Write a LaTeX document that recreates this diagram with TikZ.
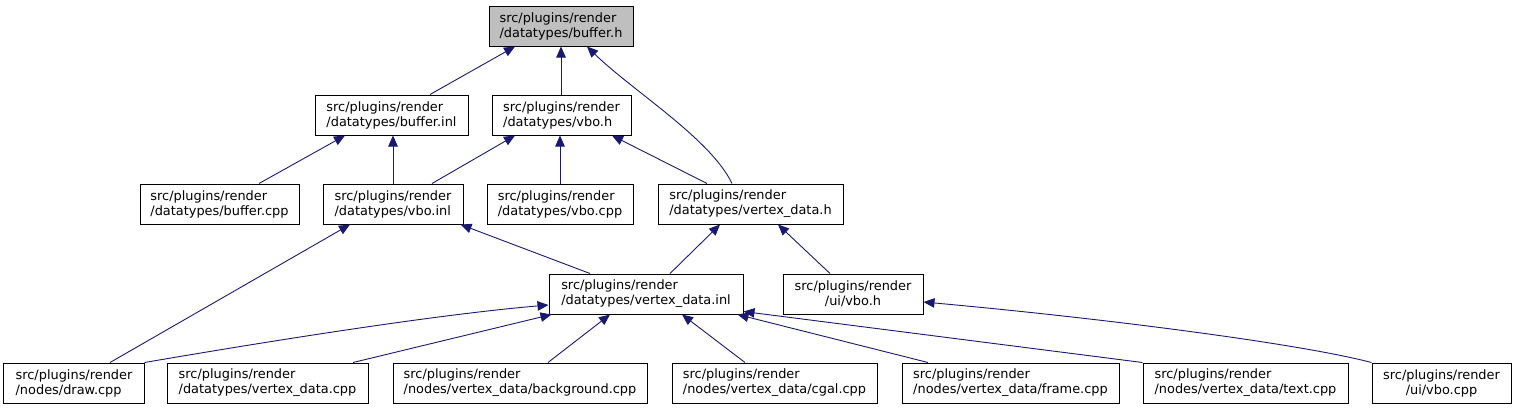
\documentclass[tikz,border=0pt]{standalone}
\usepackage{fontspec}
\setmainfont{DejaVu Sans}
\usetikzlibrary{arrows.meta}
\definecolor{edgeblue}{HTML}{191970}
\definecolor{rootgrey}{HTML}{BFBFBF}
\begin{document}
\begin{tikzpicture}[x=1bp,y=-1bp,
  box/.style={draw=black, line width=1bp, rectangle, inner sep=0pt, minimum height=40bp,
              align=left, font=\fontsize{12.9bp}{15bp}\selectfont, fill=white},
  cbox/.style={box, align=center},
  edge/.style={draw=edgeblue, line width=0.9bp, -{Triangle[length=11bp,width=9.5bp]}}]
\useasboundingbox (0,0) rectangle (1516,409);
% row 0
\node[box, fill=rootgrey, minimum width=144bp] (bufh) at (561,26) {src/plugins/render\\/datatypes/buffer.h};
% row 1
\node[box, minimum width=153bp] (bufinl) at (391.5,115) {src/plugins/render\\/datatypes/buffer.inl};
\node[box, minimum width=139bp] (vboh) at (561.5,115) {src/plugins/render\\/datatypes/vbo.h};
% row 2
\node[box, minimum width=159bp] (bufcpp) at (219.5,204) {src/plugins/render\\/datatypes/buffer.cpp};
\node[box, minimum width=140bp] (vboinl) at (393,204) {src/plugins/render\\/datatypes/vbo.inl};
\node[box, minimum width=146bp] (vbocpp) at (560,204) {src/plugins/render\\/datatypes/vbo.cpp};
\node[box, minimum width=185bp] (vdh) at (750.5,204) {src/plugins/render\\/datatypes/vertex\_data.h};
% row 3
\node[box, minimum width=194bp] (vdinl) at (646,294) {src/plugins/render\\/datatypes/vertex\_data.inl};
\node[cbox, minimum width=140bp] (uivboh) at (853,294) {src/plugins/render\\/ui/vbo.h};
% row 4
\node[box, minimum width=140bp] (drawcpp) at (74,383) {src/plugins/render\\/nodes/draw.cpp};
\node[box, minimum width=201bp] (vdcpp) at (267.5,383) {src/plugins/render\\/datatypes/vertex\_data.cpp};
\node[box, minimum width=254bp] (bgcpp) at (520,383) {src/plugins/render\\/nodes/vertex\_data/background.cpp};
\node[box, minimum width=205bp] (cgalcpp) at (774.5,383) {src/plugins/render\\/nodes/vertex\_data/cgal.cpp};
\node[box, minimum width=217bp] (framecpp) at (1010.5,383) {src/plugins/render\\/nodes/vertex\_data/frame.cpp};
\node[box, minimum width=205bp] (textcpp) at (1245.5,383) {src/plugins/render\\/nodes/vertex\_data/text.cpp};
\node[cbox, minimum width=139bp] (uivbocpp) at (1441.5,383) {src/plugins/render\\/ui/vbo.cpp};
% edges
\draw[edge] ([xshift=38.5bp]bufinl.north) -- ([xshift=-46bp]bufh.south);
\draw[edge] (vboh.north -| bufh.south) -- (bufh.south);
\draw[edge] ([xshift=-18.5bp]vdh.north) .. controls ([xshift=-40bp,yshift=45bp]vdh.north) and ([xshift=71bp,yshift=-44bp]bufh.south) .. ([xshift=26bp]bufh.south);
\draw[edge] ([xshift=39.5bp]bufcpp.north) -- ([xshift=-46.5bp]bufinl.south);
\draw[edge] (vboinl.north) -- (vboinl.north |- bufinl.south);
\draw[edge] ([xshift=39bp]vboinl.north) -- ([xshift=-46.5bp]vboh.south);
\draw[edge] (vbocpp.north) -- (vbocpp.north |- vboh.south);
\draw[edge] ([xshift=-43.5bp]vdh.north) -- ([xshift=50.5bp]vboh.south);
\draw[edge] ([xshift=36bp]drawcpp.north) -- ([xshift=-43bp]vboinl.south);
\draw[edge] ([xshift=-56bp]vdinl.north) -- ([xshift=-3bp]vboinl.south east);
\draw[edge] ([xshift=24bp]vdinl.north) -- ([xshift=-30.5bp]vdh.south);
\draw[edge] ([xshift=-23bp]uivboh.north) -- ([xshift=27.5bp]vdh.south);
\draw[edge] (drawcpp.north east) .. controls ([xshift=76bp,yshift=13bp]drawcpp.north east) and ([xshift=-129bp]vdinl.west |- 0,316) .. (vdinl.west |- 0,305);
\draw[edge] ([xshift=85.5bp]vdcpp.north) -- ([xshift=3bp]vdinl.south west);
\draw[edge] ([xshift=28bp]bgcpp.north) -- ([xshift=-36bp]vdinl.south);
\draw[edge] ([xshift=-29.5bp]cgalcpp.north) -- ([xshift=36bp]vdinl.south);
\draw[edge] ([xshift=-82.5bp]framecpp.north) -- ([xshift=-6bp]vdinl.south east);
\draw[edge] (textcpp.north west) -- ([yshift=3bp]vdinl.south east);
\draw[edge] (uivbocpp.north west) .. controls ([xshift=-72bp,yshift=19bp]uivbocpp.north west) and ([xshift=177bp,yshift=-16bp]uivboh.east |- 0,302) .. (uivboh.east |- 0,302);
\end{tikzpicture}
\end{document}
